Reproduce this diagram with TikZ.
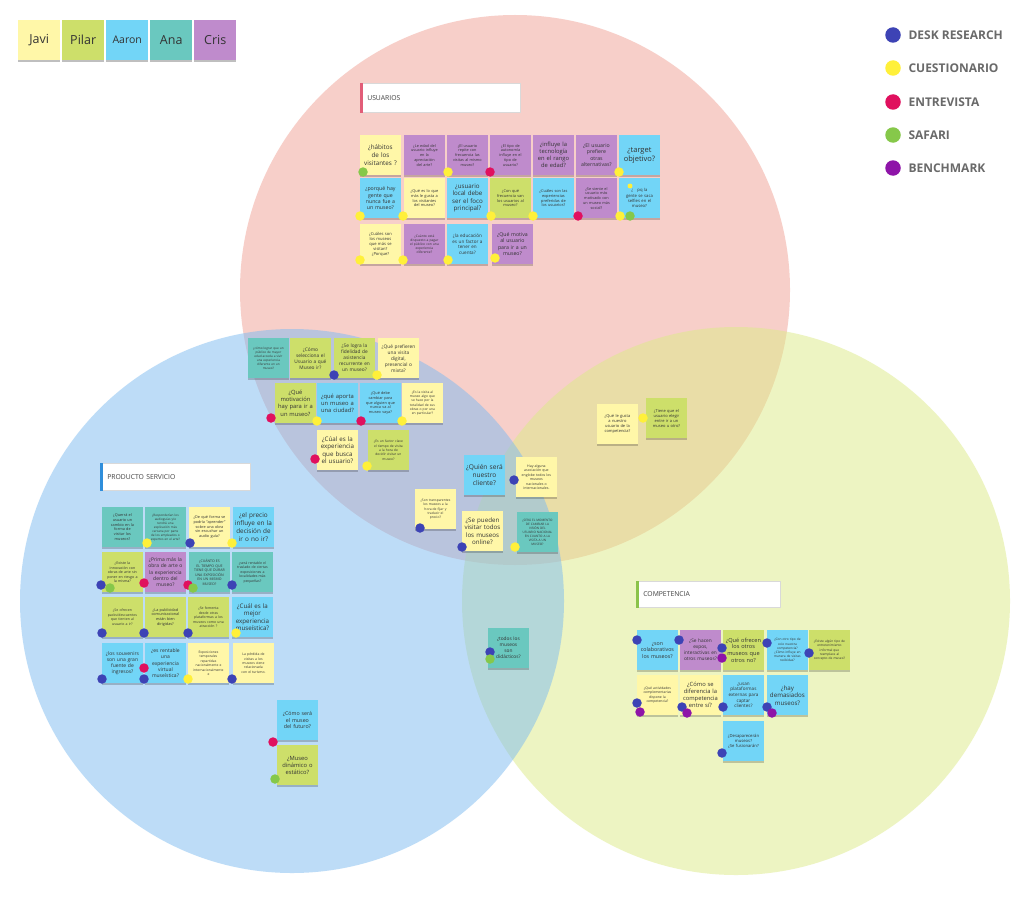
\documentclass[tikz,border=0pt]{standalone}
\usepackage{fontspec}
\setmainfont{Open Sans}
\usetikzlibrary{shadows}
\definecolor{jv}{HTML}{FFF7A8}
\definecolor{pl}{HTML}{CDDF6A}
\definecolor{aa}{HTML}{72D5F7}
\definecolor{an}{HTML}{6AC8BF}
\definecolor{cr}{HTML}{BF8BCC}
\definecolor{dr}{HTML}{3D43B5}
\definecolor{cu}{HTML}{FFF03A}
\definecolor{en}{HTML}{E0105E}
\definecolor{sf}{HTML}{86C84A}
\definecolor{bm}{HTML}{8E14A8}
\definecolor{txt}{HTML}{333333}
\definecolor{lgt}{HTML}{6A6A6A}
\definecolor{cred}{HTML}{F1A195}
\definecolor{cblue}{HTML}{7DBBF1}
\definecolor{cgreen}{HTML}{DDEB87}
\definecolor{barr}{HTML}{E25D78}
\definecolor{barb}{HTML}{2F8EDB}
\definecolor{barg}{HTML}{8BC34A}
\newcounter{dc}
\newcommand\stk[7]{\node[stick,fill=#4,font=\fontsize{#5}{#6}\selectfont] (#1) at (#2,#3) {#7};}
\newcommand\dt[3]{\stepcounter{dc}\node[dotn,fill=#1] (dot\arabic{dc}) at (#2,#3) {};}
\begin{document}
\begin{tikzpicture}[x=1pt,y=-1pt,
  stick/.style={rectangle,anchor=north west,minimum width=40.5pt,minimum height=40pt,
    text width=38.5pt,inner xsep=1pt,inner ysep=2pt,align=center,text=txt,
    drop shadow={shadow xshift=0pt,shadow yshift=-1.3pt,opacity=0.2,fill=black}},
  dotn/.style={circle,minimum size=9.5pt,inner sep=0pt,draw=none},
  lgnote/.style={rectangle,anchor=north west,minimum width=42pt,minimum height=40pt,
    inner sep=0pt,text=txt,font=\fontsize{12.5}{14}\selectfont,
    drop shadow={shadow xshift=0pt,shadow yshift=-2pt,opacity=0.25,fill=black}},
  lgtext/.style={anchor=west,text=lgt,font=\bfseries\fontsize{12}{14}\selectfont},
  sect/.style={rectangle,anchor=north west,fill=white,draw=black!15,line width=0.6pt,
    align=left,inner xsep=7pt,text=black!75,font=\fontsize{6.8}{8}\selectfont}]
\fill[white] (0,0) rectangle (1024,915);
\useasboundingbox (0,0) rectangle (1024,915);
% circles
\fill[cred,opacity=0.5] (515,290) circle [radius=275];
\fill[cgreen,opacity=0.5] (736,601) circle [radius=274];
\fill[cblue,opacity=0.5] (292,601) circle [radius=272];
% top-left legend
\node[lgnote,fill=jv] (lj) at (18,20) {Javi};
\node[lgnote,fill=pl] (lp) at (62,20) {Pilar};
\node[lgnote,fill=aa,font=\fontsize{10.5}{12}\selectfont] (la) at (106,20) {Aaron};
\node[lgnote,fill=an] (lan) at (150,20) {Ana};
\node[lgnote,fill=cr] (lc) at (194,20) {Cris};
% right legend
\node[dotn,fill=dr,minimum size=15.5pt] (lg1) at (893,35) {};
\node[lgtext] (lt1) at (905,35) {DESK RESEARCH};
\node[dotn,fill=cu,minimum size=15.5pt] (lg2) at (893,68) {};
\node[lgtext] (lt2) at (905,68) {CUESTIONARIO};
\node[dotn,fill=en,minimum size=15.5pt] (lg3) at (893,102) {};
\node[lgtext] (lt3) at (905,102) {ENTREVISTA};
\node[dotn,fill=sf,minimum size=15.5pt] (lg4) at (893,135) {};
\node[lgtext] (lt4) at (905,135) {SAFARI};
\node[dotn,fill=bm,minimum size=15.5pt] (lg5) at (893,168) {};
\node[lgtext] (lt5) at (905,168) {BENCHMARK};
% section labels
\node[sect,minimum width=160pt,minimum height=29pt,text width=146pt] (su) at (360,83) {USUARIOS};
\draw[barr,line width=2.5pt] ([xshift=1.25pt]su.north west) -- ([xshift=1.25pt]su.south west);
\node[sect,minimum width=150pt,minimum height=27pt,text width=136pt] (sp) at (100,463) {PRODUCTO SERVICIO};
\draw[barb,line width=2.5pt] ([xshift=1.25pt]sp.north west) -- ([xshift=1.25pt]sp.south west);
\node[sect,minimum width=144pt,minimum height=26pt,text width=130pt] (sc) at (636,581) {COMPETENCIA};
\draw[barg,line width=2.5pt] ([xshift=1.25pt]sc.north west) -- ([xshift=1.25pt]sc.south west);
% USUARIOS notes
\stk{u1}{360}{135}{jv}{6.3}{7.6}{¿hábitos\\de los\\visitantes ?}
\stk{u2}{404}{135}{cr}{3.8}{4.7}{¿Le edad del\\usuario influye\\en la\\apreciación\\del arte?}
\stk{u3}{447}{135}{cr}{3.8}{4.7}{¿El usuario\\repite con\\frecuencia las\\visitas al mismo\\museo?}
\stk{u4}{490}{135}{cr}{3.8}{4.7}{¿El tipo de\\autonomía\\influye en el\\tipo de\\usuario?}
\stk{u5}{533}{135}{cr}{5.8}{7}{¿influye la\\tecnología\\en el rango\\de edad?}
\stk{u6}{576}{135}{cr}{5.2}{6.4}{¿El usuario\\prefiere\\otras\\alternativas?}
\stk{u7}{619}{135}{aa}{7.5}{9}{¿target\\objetivo?}
\stk{u8}{360}{178}{aa}{5.2}{6.3}{¿porqué hay\\gente que\\nunca fue a\\un museo?}
\stk{u9}{404}{178}{jv}{3.9}{4.8}{¿Qué es lo que\\más le gusta a\\los visitantes\\del museo?}
\stk{u10}{447}{178}{aa}{6.2}{7.5}{¿usuario\\local debe\\ser el foco\\principal?}
\stk{u11}{490}{178}{pl}{3.9}{4.8}{¿Con qué\\frecuencia van\\los usuarios al\\museo?}
\stk{u12}{533}{178}{aa}{3.9}{4.8}{¿Cuáles son las\\experiencias\\preferidas de\\los usuarios?}
\stk{u13}{576}{178}{cr}{3.8}{4.7}{¿Se siente el\\usuario más\\motivado con\\un museo más\\social?}
\stk{u14}{619}{178}{aa}{4.2}{5.2}{¿\quad pq la\\gente se saca\\selfies en el\\museo?}
\stk{u15}{360}{224}{jv}{4.1}{5.1}{¿Cuáles son\\los museos\\que más se\\visitan?\\¿Porque?}
\stk{u16}{404}{224}{cr}{3.3}{4.2}{¿Cuánto está\\dispuesto a pagar\\el público con una\\experiencia\\diferente?}
\stk{u17}{447}{224}{aa}{4.6}{5.8}{¿la educación\\es un factor a\\tener en\\cuenta?}
\stk{u18}{492}{224}{cr}{5.2}{6.4}{¿Qué motiva\\al usuario\\para ir a un\\museo?}
% middle cluster
\stk{m1}{248}{338}{an}{3.1}{4}{¿cómo lograr que un\\público de mayor\\edad acceda a vivir\\una experiencia\\diferente en un\\museo?}
\stk{m2}{290}{338}{pl}{4.8}{6}{¿Cómo\\selecciona el\\Usuario a qué\\Museo ir?}
\stk{m3}{334}{338}{pl}{4.8}{6}{¿Se logra la\\fidelidad de\\asistencia\\recurrente en\\un museo?}
\stk{m4}{378}{338}{jv}{4.8}{6}{¿Qué prefieren\\una visita\\digital,\\presencial o\\mixta?}
\stk{m5}{275}{383}{pl}{5.8}{7.2}{¿Qué\\motivación\\hay para ir a\\un museo?}
\stk{m6}{317}{383}{aa}{5.8}{7}{¿qué aporta\\un museo a\\una ciudad?}
\stk{m7}{360}{383}{aa}{3.8}{4.7}{¿Qué debe\\cambiar para\\que alguien que\\nunca va al\\museo vaya?}
\stk{m8}{402}{383}{jv}{3.3}{4.2}{¿Es la visita al\\museo algo que\\se hace por la\\totalidad de sus\\obras o por una\\en particular?}
\stk{m9}{317}{430}{jv}{6.2}{7.5}{¿Cúal es la\\experiencia\\que busca\\el usuario?}
\stk{m10}{368}{430}{pl}{3.3}{4.3}{¿Es un factor clave\\el tiempo de visita\\a la hora de\\decidir visitar un\\museo?}
% center
\stk{c1}{464}{455}{aa}{6.6}{8}{¿Quién será\\nuestro\\cliente?}
\stk{c2}{516}{457}{jv}{3.5}{4.5}{Hay alguna\\asociación que\\englobe todos los\\museos\\nacionales o\\internacionales.}
\stk{c3}{415}{489}{jv}{3.3}{4.3}{¿Son transparentes\\los museos a la\\hora de fijar y\\traducir el\\precio?}
\stk{c4}{462}{511}{jv}{6.2}{7.5}{¿Se pueden\\visitar todos\\los museos\\online?}
\stk{c5}{517}{512}{an}{3.1}{4.1}{¿SERÁ EL MOMENTO\\DE CAMBIAR LA\\VISIÓN DEL\\USUARIO NACIONAL\\EN CUANTO A LA\\VISITA A UN\\MUSEO?}
% producto servicio
\stk{p1}{102}{507}{an}{3.8}{4.7}{¿Querrá el\\usuario un\\cambio en la\\forma de\\visitar los\\museos?}
\stk{p2}{145}{507}{an}{3.1}{4}{¿Responderían los\\audioguías y/o\\tendrá una\\explicación más\\cercana por parte\\de los empleados o\\expertos en el arte?}
\stk{p3}{189}{507}{jv}{3.8}{4.7}{¿De qué forma se\\podría “aprender”\\sobre una obra\\sin escuchar un\\audio guía?}
\stk{p4}{233}{507}{aa}{6.4}{7.8}{¿el precio\\influye en la\\decisión de\\ir o no ir?}
\stk{p5}{102}{552}{pl}{3.6}{4.5}{¿Existe la\\innovación con\\obras de arte sin\\poner en riesgo a\\la misma?}
\stk{p6}{145}{552}{cr}{5}{6.2}{¿Prima más la\\obra de arte o\\la experiencia\\dentro del\\museo?}
\stk{p7}{189}{552}{an}{3.5}{4.5}{¿CUÁNTO ES\\EL TIEMPO QUE\\TIENE QUE DURAR\\UNA EXPOSICIÓN\\EN UN MISMO\\MUSEO?}
\stk{p8}{232}{552}{an}{3.5}{4.5}{¿será rentable el\\traslado de ciertas\\exposiciones a\\localidades más\\pequeñas?}
\stk{p9}{102}{597}{pl}{3.5}{4.5}{¿Se ofrecen\\packs/descuentos\\que tienten al\\usuario a ir?}
\stk{p10}{145}{597}{pl}{3.8}{4.7}{¿La publicidad\\comunicacional\\están bien\\dirigidas?}
\stk{p11}{188}{597}{pl}{3.5}{4.5}{¿Se fomenta\\desde otras\\plataformas a los\\museos como una\\atracción ?}
\stk{p12}{232}{597}{aa}{6.2}{7.6}{¿Cuál es la\\mejor\\experiencia\\museística?}
\stk{p13}{102}{643}{aa}{5}{6.2}{¿los souvenirs\\son una gran\\fuente de\\ingresos?}
\stk{p14}{145}{643}{aa}{5}{6.2}{¿es rentable\\una\\experiencia\\virtual\\museística?}
\stk{p15}{188}{643}{jv}{3.3}{4.4}{Exposiciones\\temporales\\repartidas\\nacionalmente e\\internacionalmente\\e}
\stk{p16}{233}{643}{jv}{3.4}{4.4}{La pérdida de\\visitas a los\\museos viene\\relacionada\\con el turismo.}
% right area
\stk{r1}{597}{404}{jv}{4}{5}{¿Qué le gusta\\a nuestro\\usuario de la\\competencia?}
\stk{r2}{646}{398}{pl}{4}{5}{¿Tiene que el\\usuario elegir\\entre ir a un\\museo u otro?}
% competencia
\stk{k1}{637}{630}{aa}{5.3}{6.5}{¿son\\colaborativos\\los museos?}
\stk{k2}{680}{630}{cr}{4.8}{6}{¿Se hacen\\expos,\\interactivas en\\otros museos?}
\stk{k3}{723}{630}{pl}{5.6}{6.8}{¿Qué ofrecen\\los otros\\museos que\\otros no?}
\stk{k4}{767}{630}{aa}{3.2}{4.2}{¿Con otro tipo de\\ocio nuestra\\competencia?\\¿Cómo influye en\\manera de visitas\\recibidas?}
\stk{k5}{809}{630}{pl}{3.2}{4.2}{¿Existe algún tipo de\\entretenimiento\\informal que\\reemplace al\\concepto de museo?}
\stk{k6}{637}{675}{jv}{3.4}{4.3}{¿Qué actividades\\complementarias\\dispone la\\competencia?}
\stk{k7}{680}{675}{jv}{5.8}{7}{¿Cómo se\\diferencia la\\competencia\\entre sí?}
\stk{k8}{723}{675}{aa}{4.6}{5.7}{¿usan\\plataformas\\externas para\\captar\\clientes?}
\stk{k9}{767}{675}{aa}{6.2}{7.5}{¿hay\\demasiados\\museos?}
\stk{k10}{723}{721}{aa}{4.2}{5.2}{¿Desaparecerán\\museos?\\¿Se fusionarán?}
% bottom
\stk{b1}{277}{700}{aa}{5.3}{6.5}{¿Cómo será\\el museo\\del futuro?}
\stk{b2}{277}{745}{pl}{5.8}{7}{¿Museo\\dinámico o\\estático?}
\stk{b3}{488}{628}{an}{4.8}{6}{¿todos los\\museos\\son\\didácticos?}
% dots
\node[dotn,fill=cu,minimum size=5pt] (emo) at (630,186) {};
\dt{sf}{363}{172}\dt{cu}{448}{172}\dt{en}{490}{172}\dt{cu}{619}{172}
\dt{cu}{360}{216}\dt{cu}{403}{216}\dt{cu}{491}{216}\dt{cu}{533}{216}\dt{en}{578}{216}\dt{cu}{620}{216}\dt{sf}{630}{216}
\dt{cu}{360}{260}\dt{cu}{403}{260}\dt{cu}{448}{260}\dt{cu}{495}{258}
\dt{dr}{334}{375}\dt{cu}{377}{375}\dt{en}{271}{418}\dt{cu}{317}{421}\dt{en}{361}{421}\dt{cu}{402}{421}\dt{en}{315}{459}\dt{cu}{367}{466}
\dt{dr}{514}{480}\dt{dr}{420}{528}\dt{dr}{462}{547}\dt{cu}{515}{547}
\dt{cu}{147}{543}\dt{dr}{190}{543}\dt{cu}{232}{543}
\dt{dr}{101}{585}\dt{sf}{110}{588}\dt{en}{144}{583}\dt{en}{188}{585}\dt{sf}{193}{588}\dt{dr}{232}{585}
\dt{dr}{102}{633}\dt{dr}{144}{633}\dt{dr}{188}{633}\dt{cu}{236}{633}
\dt{dr}{102}{679}\dt{en}{144}{668}\dt{dr}{144}{679}\dt{cu}{188}{679}\dt{dr}{232}{679}
\dt{cu}{643}{418}
\dt{dr}{637}{640}\dt{dr}{679}{640}\dt{dr}{722}{648}\dt{bm}{722}{658}\dt{dr}{767}{643}\dt{dr}{809}{653}
\dt{dr}{637}{703}\dt{bm}{640}{712}\dt{dr}{682}{707}\dt{bm}{687}{713}\dt{dr}{723}{707}\dt{dr}{767}{707}\dt{bm}{772}{713}\dt{dr}{722}{753}
\dt{en}{273}{742}\dt{sf}{275}{779}\dt{dr}{490}{652}\dt{sf}{490}{659}
\end{tikzpicture}
\end{document}
